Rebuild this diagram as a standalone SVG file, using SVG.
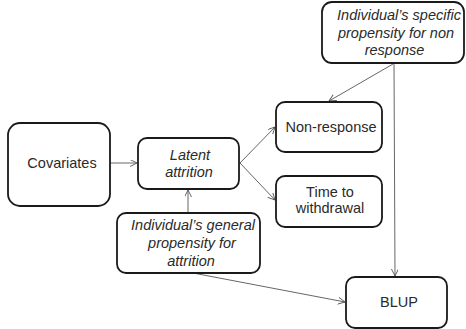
<svg xmlns="http://www.w3.org/2000/svg" width="466" height="329" viewBox="0 0 466 329">
<defs>
<style>
.box{fill:#fff;stroke:#1a1a1a;stroke-width:1.8}
.t{font-family:"Liberation Sans",Arial,sans-serif;font-size:14.5px;fill:#2a2a2a;text-anchor:middle}
.i{font-style:italic}
.c{stroke:#555;stroke-width:0.9;fill:none}
</style>
<marker id="ah" markerWidth="8" markerHeight="8" refX="7" refY="3.5" orient="auto" markerUnits="userSpaceOnUse">
<path d="M0,0 L7,3.5 L0,7" fill="none" stroke="#555" stroke-width="0.9"/>
</marker>
</defs>
<rect width="466" height="329" fill="#fff"/>
<g id="connectors">
<line class="c" x1="110" y1="163" x2="137" y2="163" marker-end="url(#ah)"/>
<line class="c" x1="188" y1="213" x2="188" y2="190" marker-end="url(#ah)"/>
<line class="c" x1="240" y1="163" x2="275" y2="127" marker-end="url(#ah)"/>
<line class="c" x1="240" y1="163" x2="275" y2="200" marker-end="url(#ah)"/>
<line class="c" x1="393" y1="64" x2="329" y2="101" marker-end="url(#ah)"/>
<line class="c" x1="394" y1="64" x2="395" y2="276" marker-end="url(#ah)"/>
<line class="c" x1="193" y1="273" x2="345" y2="302" marker-end="url(#ah)"/>
</g>
<g id="covariates">
<rect class="box" x="8" y="123" width="102" height="83" rx="12"/>
<text class="t" x="62" y="168">Covariates</text>
</g>
<g id="latent">
<rect class="box" x="138" y="138" width="101" height="51" rx="9"/>
<text class="t i" x="190" y="160">Latent</text>
<text class="t i" x="189" y="177">attrition</text>
</g>
<g id="general">
<rect class="box" x="117" y="213" width="143" height="60" rx="9"/>
<text class="t i" x="193" y="230">Individual’s general</text>
<text class="t i" x="192" y="248">propensity for</text>
<text class="t i" x="191" y="266">attrition</text>
</g>
<g id="nonresponse">
<rect class="box" x="276" y="102" width="106" height="50" rx="9"/>
<text class="t" x="331" y="132">Non-response</text>
</g>
<g id="withdrawal">
<rect class="box" x="276" y="176" width="106" height="51" rx="9"/>
<text class="t" x="330" y="197">Time to</text>
<text class="t" x="330" y="213">withdrawal</text>
</g>
<g id="specific">
<rect class="box" x="322" y="2" width="142" height="61" rx="10"/>
<text class="t i" x="399" y="20">Individual’s specific</text>
<text class="t i" x="396" y="37.5">propensity for non</text>
<text class="t i" x="394.5" y="55">response</text>
</g>
<g id="blup">
<rect class="box" x="346" y="277" width="101" height="51" rx="9"/>
<text class="t" x="399" y="307">BLUP</text>
</g>
</svg>
